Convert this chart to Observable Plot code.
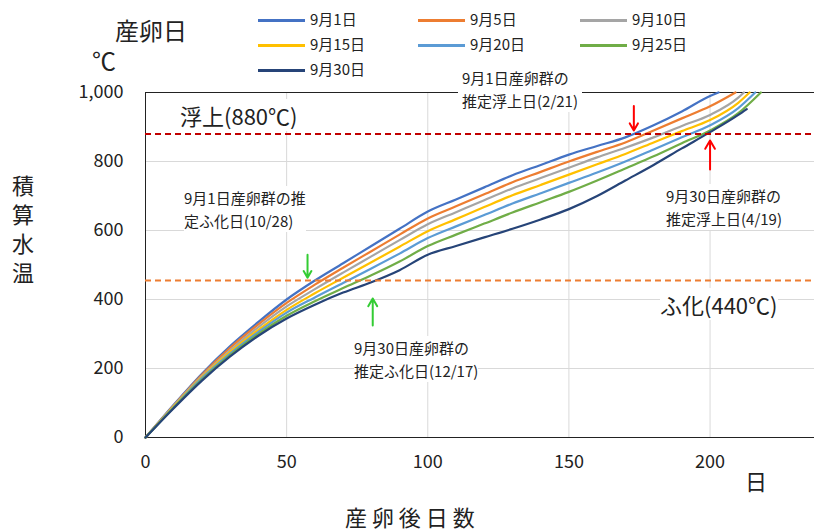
<!DOCTYPE html>
<html><head><meta charset="utf-8">
<script src="https://cdn.jsdelivr.net/npm/d3@7"></script>
<script src="https://cdn.jsdelivr.net/npm/@observablehq/plot@0.6"></script>
<style>
body{margin:0;font-family:"Noto Sans CJK JP","Noto Sans",sans-serif;background:#fff;}
#wrap{position:relative;width:814px;height:532px;overflow:hidden;}
.a{position:absolute;white-space:nowrap;color:#222;}
.ann{position:absolute;white-space:nowrap;font-size:15px;line-height:23px;background:#fff;color:#222;}
svg{position:absolute;left:0;top:0;}
</style></head><body><div id="wrap"></div>
<script>
const days=[0,10,20,30,40,50,60,70,80,90,100,110,120,130,140,150,160,170,180,190,200,210];
const seriesNames=["9月1日","9月5日","9月10日","9月15日","9月20日","9月25日","9月30日"];
const colors=["#4472C4","#ED7D31","#A5A5A5","#FFC000","#5B9BD5","#70AD47","#264478"];
const s0901=[0,95,185,265,335,400,455,505,555,605,655,690,725,760,790,820,845,870,905,945,990,null];
const s0905=[0,93,182,260,328,390,443,492,540,588,635,670,705,740,770,800,828,855,890,925,960,null];
const s0910=[0,92,178,253,320,380,430,478,525,572,618,653,688,722,752,782,812,840,870,903,935,985];
const s0915=[0,90,175,248,312,370,418,463,508,553,598,633,668,702,732,762,792,822,855,888,920,970];
const s0920=[0,88,172,243,306,362,406,448,490,533,578,612,645,678,708,738,768,800,835,870,905,955];
const s0925=[0,87,168,239,300,353,395,433,470,510,555,588,620,652,682,712,745,780,815,853,890,940];
const s0930=[0,85,165,235,295,345,385,420,450,485,530,555,580,605,632,662,700,745,790,838,885,935];
const endDay=[203,209,212,214,216,218,213];
const endVal=[1000,1000,1000,1000,1000,1000,952];
const all=[s0901,s0905,s0910,s0915,s0920,s0925,s0930];
const data=[];
all.forEach((s,i)=>{s.forEach((v,j)=>{if(v!=null)data.push({d:days[j],v,k:seriesNames[i]});});
  data.push({d:endDay[i],v:endVal[i],k:seriesNames[i]});});
const xTicks=[0,50,100,150,200], yTicks=[0,200,400,600,800,1000];
const surface=880, hatchLine=455;
const plot=Plot.plot({width:814,height:532,marginTop:92,marginBottom:95,marginLeft:145,marginRight:0,
 style:{fontFamily:"Noto Sans CJK JP, sans-serif",fontSize:"18px",color:"#222"},
 x:{domain:[0,237],ticks:xTicks,label:null,tickSize:0,tickPadding:18},
 y:{domain:[0,1000],ticks:yTicks,label:null,tickSize:0,tickPadding:22,tickFormat:d3.format(",")},
 color:{domain:seriesNames,range:colors},
 marks:[
  Plot.ruleX(xTicks.slice(1),{stroke:"#d9d9d9"}),
  Plot.ruleY(yTicks.slice(1),{stroke:"#d9d9d9"}),
  Plot.ruleY([1000],{stroke:"#222"}),
  Plot.ruleY([0],{stroke:"#222"}),
  Plot.ruleX([0],{stroke:"#222"}),
  Plot.line(data,{x:"d",y:"v",z:"k",stroke:"k",strokeWidth:2.2,curve:"monotone-x"}),
  Plot.ruleY([surface],{stroke:"#C00000",strokeWidth:2,strokeDasharray:"6,4"}),
  Plot.ruleY([hatchLine],{stroke:"#ED7D31",strokeWidth:2,strokeDasharray:"6,4"}),
  Plot.arrow([{x:173,y1:961,y2:890},{x:200,y1:777,y2:861}],{x1:"x",x2:"x",y1:"y1",y2:"y2",stroke:"#FF0000",strokeWidth:2,headLength:8}),
  Plot.arrow([{x:57.4,y1:530,y2:463},{x:80.5,y1:325,y2:403}],{x1:"x",x2:"x",y1:"y1",y2:"y2",stroke:"#33CC33",strokeWidth:2,headLength:8})
 ]});
const w=document.getElementById("wrap");
w.appendChild(plot);
function add(html,cls,st){const e=document.createElement("div");e.className=cls;e.innerHTML=html;Object.assign(e.style,st);w.appendChild(e);}
add("産卵日","a",{left:"115px",top:"12px",fontSize:"24px"});
add("℃","a",{left:"92px",top:"42px",fontSize:"24px"});
const pos=[[258,20],[418,20],[580,20],[258,45],[418,45],[580,45],[258,70]];
seriesNames.forEach((n,i)=>{const [x,y]=pos[i];
 add("","a",{left:x+"px",top:(y-1)+"px",width:"47px",height:"3px",background:colors[i]});
 add(n,"a",{left:(x+52)+"px",top:(y-12)+"px",fontSize:"15px"});});
add("浮上(880℃)","a",{left:"180px",top:"99px",fontSize:"22px",background:"#fff"});
add("ふ化(440℃)","a",{left:"660px",top:"288px",fontSize:"22px",background:"#fff"});
add("9月1日産卵群の<br>推定浮上日(2/21)","ann",{left:"458px",top:"66px",padding:"0 4px"});
add("9月30日産卵群の<br>推定浮上日(4/19)","ann",{left:"666px",top:"184px"});
add("9月1日産卵群の推<br>定ふ化日(10/28)","ann",{left:"184px",top:"186px"});
add("9月30日産卵群の<br>推定ふ化日(12/17)","ann",{left:"354px",top:"336px"});
add("日","a",{left:"745px",top:"464px",fontSize:"22px"});
add("産 卵 後 日 数","a",{left:"345px",top:"500px",fontSize:"22px"});
add("積<br>算<br>水<br>温","a",{left:"12px",top:"170px",fontSize:"22px",lineHeight:"29px"});
</script></body></html>
